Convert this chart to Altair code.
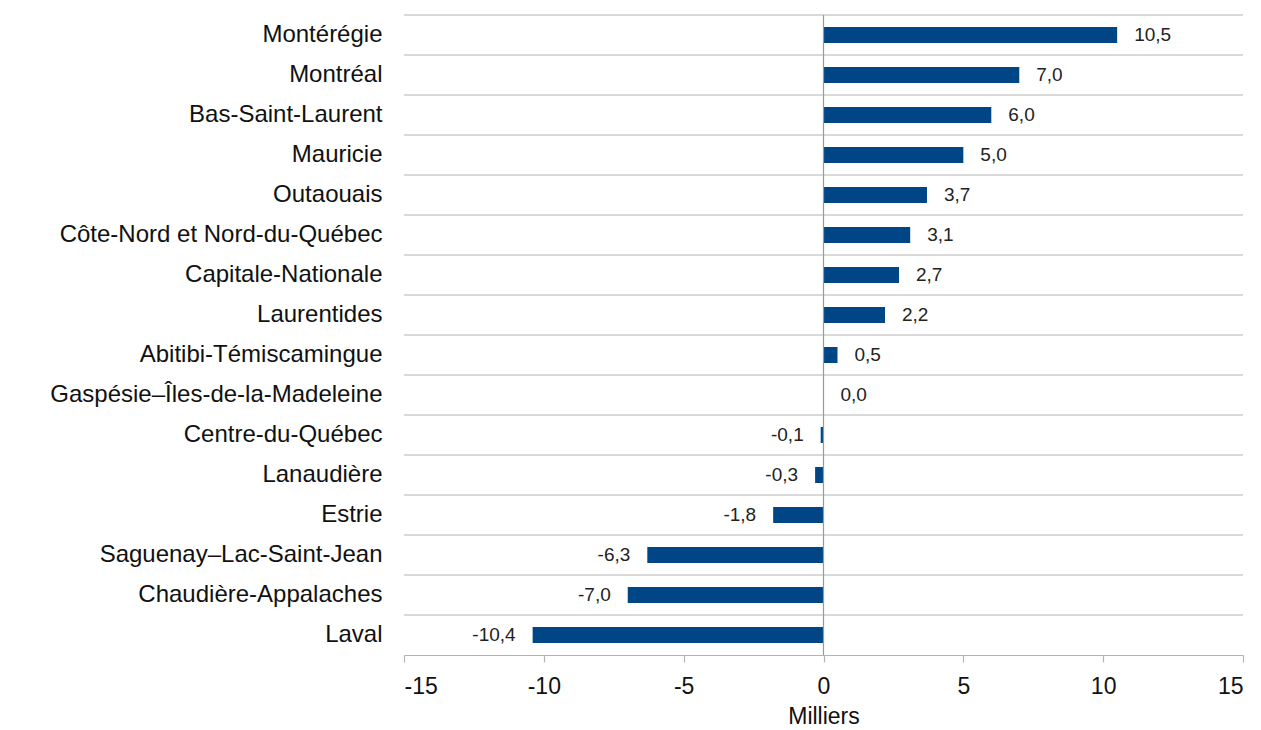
import altair as alt
import pandas as pd

regions = [
    "Montérégie", "Montréal", "Bas-Saint-Laurent", "Mauricie", "Outaouais",
    "Côte-Nord et Nord-du-Québec", "Capitale-Nationale", "Laurentides",
    "Abitibi-Témiscamingue", "Gaspésie–Îles-de-la-Madeleine", "Centre-du-Québec",
    "Lanaudière", "Estrie", "Saguenay–Lac-Saint-Jean", "Chaudière-Appalaches", "Laval",
]
values = [10.5, 7.0, 6.0, 5.0, 3.7, 3.1, 2.7, 2.2, 0.5, 0.0, -0.1, -0.3, -1.8, -6.3, -7.0, -10.4]
x_ticks = [-15, -10, -5, 0, 5, 10, 15]

df = pd.DataFrame({"region": regions, "value": values})

FONT = "Liberation Sans"
W, H = 839, 640

y_scale = alt.Scale(paddingInner=0, paddingOuter=0)
x_scale = alt.Scale(domain=[-15, 15], nice=False)

y_axis = alt.Axis(
    title=None, domain=False, ticks=False, grid=False,
    labelFont=FONT, labelFontSize=24, labelColor="#111111", labelPadding=22,
    labelLimit=500, bandPosition=0.5,
)

base = alt.Chart(df)

bars = base.mark_bar(color="#004586", size=16).encode(
    y=alt.Y("region:N", sort=regions, scale=y_scale, axis=y_axis),
    x=alt.X(
        "value:Q", scale=x_scale,
        axis=alt.Axis(
            values=x_ticks, grid=False, title="Milliers",
            labelExpr="(datum.value < 0 ? '-' : '') + abs(datum.value)",
            labelFont=FONT, labelFontSize=23, labelColor="#111111", labelPadding=13,
            titleFont=FONT, titleFontSize=23, titleFontWeight="normal", titleColor="#111111",
            titlePadding=7,
            domainColor="#b3b3b3", domainWidth=1.2, tickColor="#b3b3b3", tickSize=7, tickWidth=1.2,
        ),
    ),
)

grid = base.mark_rule(color="#b3b3b3", strokeWidth=1.2).encode(
    y=alt.Y("region:N", sort=regions, bandPosition=0, scale=y_scale),
    x=alt.value(0),
    x2=alt.value(W),
)

zero = alt.Chart(pd.DataFrame({"z": [0]})).mark_rule(color="#999999", strokeWidth=1.2).encode(
    x=alt.X("z:Q", scale=x_scale)
)

label_expr = "(datum.value < 0 ? '-' : '') + replace(format(abs(datum.value), '.1f'), '.', ',')"

pos_text = base.transform_filter("datum.value >= 0").transform_calculate(
    label=label_expr
).mark_text(align="left", baseline="middle", dx=17, font=FONT, fontSize=19, color="#222222").encode(
    y=alt.Y("region:N", sort=regions, scale=y_scale),
    x=alt.X("value:Q", scale=x_scale),
    text="label:N",
)

neg_text = base.transform_filter("datum.value < 0").transform_calculate(
    label=label_expr
).mark_text(align="right", baseline="middle", dx=-17, font=FONT, fontSize=19, color="#222222").encode(
    y=alt.Y("region:N", sort=regions, scale=y_scale),
    x=alt.X("value:Q", scale=x_scale),
    text="label:N",
)

chart = alt.layer(bars, grid, zero, pos_text, neg_text).properties(
    width=W, height=H,
    autosize=alt.AutoSizeParams(type="none"),
    padding={"left": 396, "top": 7, "right": 10, "bottom": 74},
).configure_view(stroke=None)

chart.save("out.html", embed_options={"renderer": "svg", "actions": False})
